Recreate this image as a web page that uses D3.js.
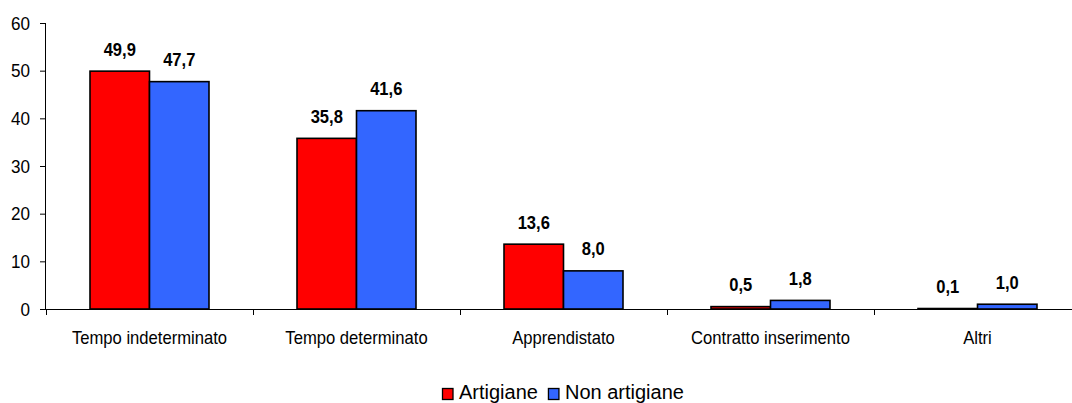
<!DOCTYPE html>
<html><head><meta charset="utf-8">
<script src="https://cdn.jsdelivr.net/npm/d3@7"></script>
<style>body{margin:0;background:#fff}svg{display:block}</style>
</head><body>
<script>
const categories = ["Tempo indeterminato","Tempo determinato","Apprendistato","Contratto inserimento","Altri"];
const seriesNames = ["Artigiane","Non artigiane"];
const artigiane = [49.9,35.8,13.6,0.5,0.1];
const nonArtigiane = [47.7,41.6,8.0,1.8,1.0];
const yTicks = [0,10,20,30,40,50,60];
const colors = ["#FF0000","#3366FF"];

const W=1072,H=403;
const svg=d3.select("body").append("svg").attr("width",W).attr("height",H);
const x=d3.scaleBand().domain(categories).range([46,1081]).paddingInner(0).paddingOuter(0);
const y=d3.scaleLinear().domain([0,60]).range([309,23]);
const inner=d3.scaleBand().domain([0,1]).range([x.bandwidth()/2-59.5,x.bandwidth()/2+59.5]);
const font="'Liberation Sans',Arial,sans-serif";

// y axis
const ya=svg.append("g").attr("transform","translate(46,0)").call(d3.axisLeft(y).tickValues(yTicks).tickSize(6).tickFormat(d3.format("d")));
ya.select(".domain").attr("d",`M-0.5,${y(60)}V${y(0)}`).attr("stroke","#000");
ya.selectAll(".tick line").attr("stroke","#000");
ya.selectAll(".tick text").attr("font-family",font).attr("font-size",18).attr("fill","#000")
  .attr("x",0).attr("dy","0.35em").attr("transform","translate(-16,0) scale(0.95,1)");

// x axis
const xa=svg.append("g").attr("transform",`translate(0,${y(0)})`).call(d3.axisBottom(x).tickSize(0).tickPadding(0));
xa.select(".domain").attr("d",`M40,0.5H1081`).attr("stroke","#000");
xa.selectAll(".tick text").attr("font-family",font).attr("font-size",19).attr("fill","#000")
  .attr("y",0).attr("dy",0).attr("transform","translate(0,35) scale(0.875,1)");
svg.append("g").selectAll("line").data(categories).join("line")
  .attr("x1",d=>Math.round(x(d))+0.5).attr("x2",d=>Math.round(x(d))+0.5)
  .attr("y1",y(0)).attr("y2",y(0)+6).attr("stroke","#000");

const data=[artigiane,nonArtigiane];
const g=svg.append("g");
categories.forEach((c,i)=>{
  data.forEach((s,j)=>{
    const v=s[i];
    const bx=x(c)+inner(j), bw=inner.bandwidth();
    g.append("rect").attr("x",bx).attr("y",y(v)).attr("width",bw).attr("height",Math.max(0,y(0)-y(v)))
      .attr("fill",colors[j]).attr("stroke","#000").attr("stroke-width",1.6);
    g.append("text").attr("transform",`translate(${bx+bw/2},${y(v)-15.5}) scale(0.92,1)`).attr("text-anchor","middle")
      .attr("font-family",font).attr("font-weight","bold").attr("font-size",18).attr("fill","#000")
      .text(d3.format(".1f")(v).replace(".",","));
  });
});

// legend
const lg=svg.append("g").attr("transform","translate(442,388)");
let lx=0;
seriesNames.forEach((n,j)=>{
  lg.append("rect").attr("x",lx+0.5).attr("y",0.5).attr("width",10.5).attr("height",11).attr("fill",colors[j]).attr("stroke","#000").attr("stroke-width",1.3);
  const t=lg.append("text").attr("x",lx+17).attr("y",11).attr("font-family",font).attr("font-size",20).attr("fill","#000").text(n);
  lx+=17+t.node().getComputedTextLength()+10;
});
</script>
</body></html>
